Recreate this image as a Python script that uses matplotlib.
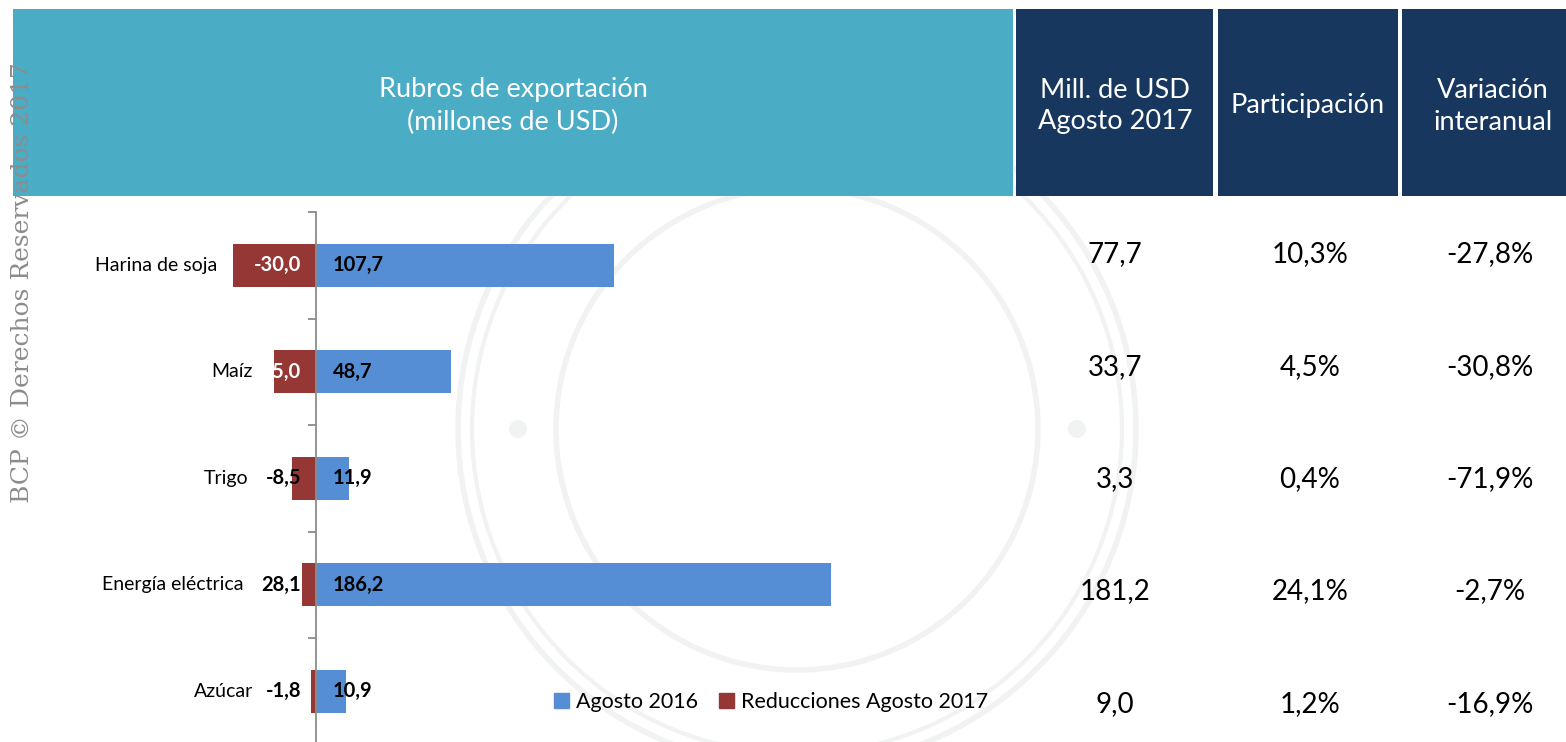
import numpy as np
import matplotlib
matplotlib.use("Agg")
import matplotlib.pyplot as plt
from matplotlib.patches import Rectangle, Circle, Patch

plt.rcParams['font.family'] = ['Lato', 'DejaVu Sans']

# data
categories = ["Harina de soja", "Maíz", "Trigo", "Energía eléctrica", "Azúcar"]
agosto_2016 = [107.7, 48.7, 11.9, 186.2, 10.9]
reducciones = [-30.0, -15.0, -8.5, -5.0, -1.8]
reduccion_labels = ["-30,0", "-15,0", "-8,5", "28,1", "-1,8"]
mill_usd_2017 = ["77,7", "33,7", "3,3", "181,2", "9,0"]
participacion = ["10,3%", "4,5%", "0,4%", "24,1%", "1,2%"]
variacion = ["-27,8%", "-30,8%", "-71,9%", "-2,7%", "-16,9%"]

BLUE = '#558ED5'
RED = '#953735'
TEAL = '#4BACC6'
NAVY = '#17375E'
GRAY = '#8C8C8C'

W, H = 1566, 742
fig = plt.figure(figsize=(W / 100, H / 100), dpi=100)

# background layer in pixel coordinates: watermark, header, table
bg = fig.add_axes([0, 0, 1, 1], zorder=0)
bg.set_xlim(0, W)
bg.set_ylim(H, 0)
bg.axis('off')

wm = '#F1F2F2'
for r, lw in [(241, 4), (325, 3), (339, 4)]:
    bg.add_patch(Circle((797, 429), r, fill=False, ec=wm, lw=lw))
for cx in (518, 1077):
    bg.add_patch(Circle((cx, 429), 9, fc=wm, ec='none'))

bg.add_patch(Rectangle((13, 9), 1000, 187, fc=TEAL, ec='none', zorder=2))
for x0, x1 in [(1016, 1213), (1218, 1398), (1402, 1566)]:
    bg.add_patch(Rectangle((x0, 9), x1 - x0, 187, fc=NAVY, ec='none', zorder=2))

hdr = dict(color='white', fontsize=19.5, ha='center', va='center', zorder=3,
           linespacing=1.35)
bg.text(513, 106, "Rubros de exportación\n(millones de USD)", **hdr)
bg.text(1115, 106, "Mill. de USD\nAgosto 2017", **hdr)
bg.text(1308, 106, "Participación", **hdr)
bg.text(1493, 106, "Variación\ninteranual", **hdr)

row_y = [254, 367, 479, 591, 704]
for col_x, col in [(1115, mill_usd_2017), (1310, participacion), (1490, variacion)]:
    for yy, txt in zip(row_y, col):
        bg.text(col_x, yy, txt, fontsize=20, ha='center', va='center', color='black')

bg.text(22, 283, "BCP © Derechos Reservados 2017", rotation=90, ha='center',
        va='center', family='DejaVu Serif', fontsize=18, color=GRAY, zorder=10)

# bar chart
px_per_unit = 298 / 107.7
zero_px = 316
ax = fig.add_axes([13 / W, (H - 744.5) / H, 1000 / W, 532.5 / H], zorder=1)
ax.patch.set_alpha(0)
y = np.arange(len(categories))
ax.barh(y, agosto_2016, height=0.4, color=BLUE)
ax.barh(y, reducciones, height=0.4, color=RED)
ax.set_xlim(-(zero_px - 13) / px_per_unit, (1013 - zero_px) / px_per_unit)
ax.set_ylim(4.5, -0.5)

for s in ['top', 'right', 'bottom']:
    ax.spines[s].set_visible(False)
ax.spines['left'].set_position(('data', 0))
ax.spines['left'].set_color(GRAY)
ax.spines['left'].set_linewidth(1.3)
ax.set_xticks([])
ax.set_yticks(np.arange(-0.5, 4.6, 1))
ax.tick_params(axis='y', length=6, width=1.3, color=GRAY, labelleft=False)

red_label_colors = ['white', 'white', 'black', 'black', 'black']
for i, (v, lab, c) in enumerate(zip(agosto_2016, reduccion_labels, red_label_colors)):
    ax.annotate(f"{v:.1f}".replace('.', ','), xy=(0, i), xytext=(17, 0),
                textcoords='offset pixels', ha='left', va='center',
                fontsize=14.5, fontweight='bold', color='black')
    ax.annotate(lab, xy=(0, i), xytext=(-15, 0), textcoords='offset pixels',
                ha='right', va='center', fontsize=14.5, fontweight='bold', color=c)

# category names sit at individual offsets in the original
cat_label_px = [217, 253, 248, 243, 253]
for i, (name, xp) in enumerate(zip(categories, cat_label_px)):
    ax.text((xp - zero_px) / px_per_unit, i, name, ha='right', va='center',
            fontsize=14, color='black', zorder=5)

handles = [Patch(color=BLUE), Patch(color=RED)]
fig.legend(handles, ["Agosto 2016", "Reducciones Agosto 2017"], loc='center',
           bbox_to_anchor=(771 / W, 1 - 702 / H), ncol=2, frameon=False,
           fontsize=15.5, handlelength=0.7, handleheight=0.7,
           handletextpad=0.3, columnspacing=1.0)

fig.savefig("out.png", dpi=100)
